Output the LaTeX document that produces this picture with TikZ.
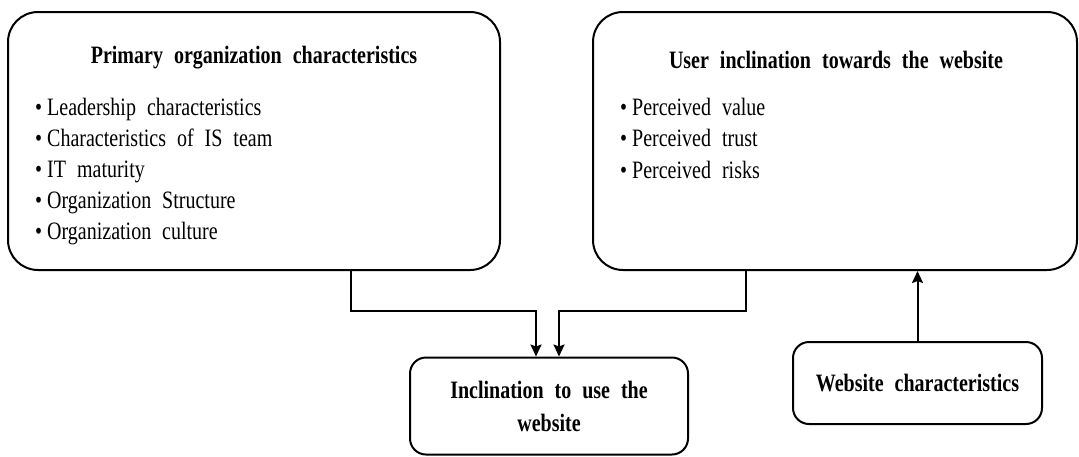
\documentclass[tikz,border=0pt]{standalone}
\usepackage{fontspec}
\setmainfont{Liberation Serif}[FakeStretch=0.8, WordSpace=2.2]
\usetikzlibrary{arrows.meta}
\begin{document}
\begin{tikzpicture}[x=1pt,y=-1pt,
  boxline/.style={draw, line width=2pt, inner sep=0pt},
  bigbox/.style={boxline, rounded corners=30pt, minimum height=258pt},
  smallbox/.style={boxline, rounded corners=16pt, align=center, font=\fontsize{25}{30}\selectfont\bfseries},
  titletext/.style={anchor=base, inner sep=0pt, font=\fontsize{25}{30}\selectfont\bfseries},
  itemtext/.style={anchor=base west, inner sep=0pt, font=\fontsize{25}{30}\selectfont},
  conn/.style={line width=2pt, -{Stealth[length=12pt,width=11pt,inset=2pt]}}]
\useasboundingbox (0,0) rectangle (1079,456);
% big boxes
\node[bigbox, minimum width=492pt] (L) at (254,141) {};
\node[bigbox, minimum width=484pt] (R) at (835,141) {};
% small boxes
\node[smallbox, minimum width=278pt, minimum height=97pt] (M) at (549,406)
  {Inclination to use the\\[3pt]website};
\node[smallbox, minimum width=249pt, minimum height=82pt] (W) at (917.5,383)
  {Website characteristics};
% titles
\node[titletext] (Lt) at (254,63) {Primary organization characteristics};
\node[titletext] (Rt) at (836,68) {User inclination towards the website};
% left items
\node[itemtext] (L1) at (35,115) {•\hspace{5pt}Leadership characteristics};
\node[itemtext] (L2) at (35,146) {•\hspace{5pt}Characteristics of IS team};
\node[itemtext] (L3) at (35,177) {•\hspace{5pt}IT maturity};
\node[itemtext] (L4) at (35,208) {•\hspace{5pt}Organization Structure};
\node[itemtext] (L5) at (35,239) {•\hspace{5pt}Organization culture};
% right items
\node[itemtext] (R1) at (620,115) {•\hspace{5pt}Perceived value};
\node[itemtext] (R2) at (620,146) {•\hspace{5pt}Perceived trust};
\node[itemtext] (R3) at (620,178) {•\hspace{5pt}Perceived risks};
% connectors
\draw[conn] ([xshift=97pt]L.south) -- ++(0,40) -| ([xshift=-13pt]M.north);
\draw[conn] ([xshift=-89pt]R.south) -- ++(0,40) -| ([xshift=10pt]M.north);
\draw[conn] (W.north) -- (W.north |- R.south);
\end{tikzpicture}
\end{document}
